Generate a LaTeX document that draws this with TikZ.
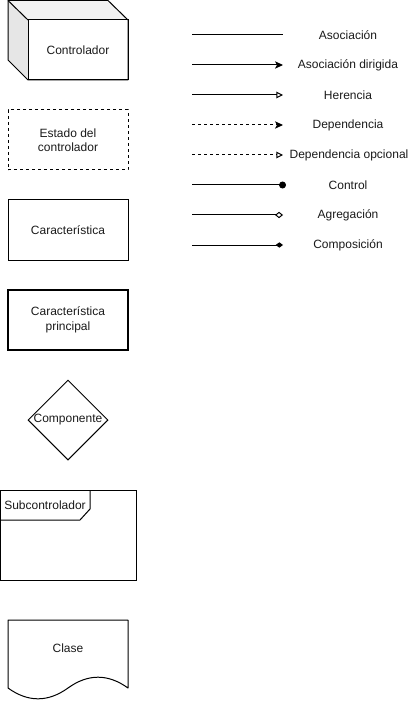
\documentclass[tikz,border=0pt]{standalone}
\usepackage{fontspec}
\setmainfont{Liberation Sans}
\usetikzlibrary{arrows.meta,shapes.geometric}
\definecolor{topface}{HTML}{F2F2F2}
\definecolor{sideface}{HTML}{E6E6E6}
\definecolor{txt}{HTML}{1A1A1A}
\begin{document}
\begin{tikzpicture}[x=0.75pt,y=-0.75pt,
  every node/.style={font=\fontsize{9}{10.8}\selectfont, text=txt},
  box/.style={draw, line width=0.75pt, minimum width=90pt, minimum height=45pt, align=center, inner sep=0pt},
  lbl/.style={inner sep=0pt, align=center},
  conn/.style={line width=0.75pt},
  dashconn/.style={conn, dash pattern=on 2.25pt off 2.25pt},
  filledtip/.style={-{Stealth[length=6pt,width=5.5pt,inset=1.5pt]}},
  opentri/.style={-{Triangle[open,length=5pt,width=5pt]}},
  dottip/.style={-{Circle[length=5.2pt]}},
  opendia/.style={-{Diamond[open,length=6pt,width=4.8pt]}},
  filldia/.style={-{Diamond[length=5.5pt,width=4pt]}}
]
\useasboundingbox (0,0) rectangle (419,702);

% Cube (Controlador)
\fill[sideface] (8,0.5)--(28,20)--(28,80)--(8,60)--cycle;
\fill[topface] (8,0.5)--(108,0.5)--(128,20)--(28,20)--cycle;
\draw[line width=0.75pt, line join=round] (8,0.5)--(108,0.5)--(128,20)--(128,80)--(28,80)--(8,60)--cycle;
\draw[line width=0.75pt] (8,0.5)--(28,20);
\node[box, minimum width=75pt] (ctrl) at (78,50) {Controlador};

% Estado del controlador
\node[box, dash pattern=on 2.25pt off 2.25pt] (estado) at (68,140) {Estado del\\controlador};

% Caracteristica
\node[box] (carac) at (68,230) {Característica};

% Caracteristica principal
\node[box, line width=1.6pt] (caracp) at (68,320) {Característica\\principal};

% Componente
\node[draw, diamond, line width=0.75pt, minimum width=60pt, minimum height=60pt, inner sep=0pt] (compd) at (68,420) {};
\node[lbl] (comp) at (68,420) {Componente};

% Subcontrolador
\node[draw, line width=0.75pt, minimum width=102pt, minimum height=67.5pt, inner sep=0pt] (sub) at (68.5,535) {};
\draw[line width=0.75pt, line join=round] (0.5,520)--(80,520)--(90,509)--(90,490);
\node[lbl] (subt) at (45,505) {Subcontrolador};

% Clase (document shape)
\draw[line width=0.75pt, line join=round] (8,620)--(128,620)--(128,688)
  .. controls (108,673.6) and (88,673.6) .. (68,688)
  .. controls (48,702.4) and (28,702.4) .. (8,688) -- cycle;
\node[lbl] (clase) at (68,648) {Clase};

% Legend
\foreach \i/\y in {1/35,2/65,3/95,4/125,5/155,6/185,7/215,8/245}{
  \coordinate (s\i) at (192,\y);
  \coordinate (e\i) at (283,\y);
}
\coordinate (e6) at (286,185);
\node[lbl] (l1) at (348,35) {Asociación};
\node[lbl] (l2) at (348,65) {Asociación dirigida};
\node[lbl] (l3) at (348,95) {Herencia};
\node[lbl] (l4) at (348,125) {Dependencia};
\node[lbl] (l5) at (349,155) {Dependencia opcional};
\node[lbl] (l6) at (348,185) {Control};
\node[lbl] (l7) at (348,215) {Agregación};
\node[lbl] (l8) at (348,245) {Composición};

\draw[conn] (s1) -- (e1);
\draw[conn, filledtip] (s2) -- (e2);
\draw[conn, opentri] (s3) -- (e3);
\draw[dashconn, filledtip] (s4) -- (e4);
\draw[dashconn, opentri] (s5) -- (e5);
\draw[conn, dottip] (s6) -- (e6);
\draw[conn, opendia] (s7) -- (e7);
\draw[conn, filldia] (s8) -- (e8);
\end{tikzpicture}
\end{document}
